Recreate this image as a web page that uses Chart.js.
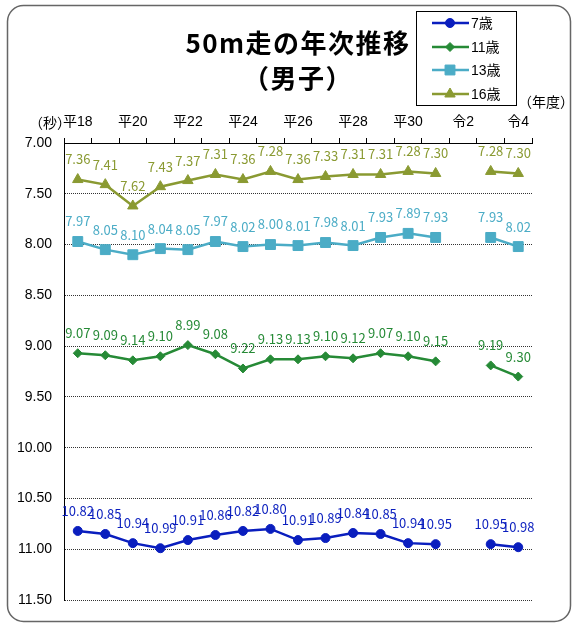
<!DOCTYPE html>
<html lang="ja">
<head>
<meta charset="utf-8">
<title>50m走の年次推移（男子）</title>
<script src="https://cdn.jsdelivr.net/npm/chart.js@4"></script>
<style>
  html, body { margin: 0; padding: 0; background: #fff; }
  #chart { display: block; }
</style>
</head>
<body>
<canvas id="chart" width="573" height="626"></canvas>
<script>
// Fiscal years (平成18 .. 令和4), 令和2 has no survey
const years = ["平18", "平19", "平20", "平21", "平22", "平23", "平24", "平25", "平26",
  "平27", "平28", "平29", "平30", "令元", "令2", "令3", "令4"];

const age7 = [10.82, 10.85, 10.94, 10.99, 10.91, 10.86, 10.82, 10.80, 10.91,
  10.89, 10.84, 10.85, 10.94, 10.95, null, 10.95, 10.98];
const age11 = [9.07, 9.09, 9.14, 9.10, 8.99, 9.08, 9.22, 9.13, 9.13,
  9.10, 9.12, 9.07, 9.10, 9.15, null, 9.19, 9.30];
const age13 = [7.97, 8.05, 8.10, 8.04, 8.05, 7.97, 8.02, 8.00, 8.01,
  7.98, 8.01, 7.93, 7.89, 7.93, null, 7.93, 8.02];
const age16 = [7.36, 7.41, 7.62, 7.43, 7.37, 7.31, 7.36, 7.28, 7.36,
  7.33, 7.31, 7.31, 7.28, 7.30, null, 7.28, 7.30];

const seriesNames = ["7歳", "11歳", "13歳", "16歳"];
const yMin = 7.0;
const yMax = 11.5;
const yStep = 0.5;

const numFont = "'Liberation Sans', 'Noto Sans CJK JP', sans-serif";
const jpFont = "'Noto Sans CJK JP', sans-serif";

function makeSeries(label, data, color, pointStyle, radius) {
  return {
    label: label,
    data: data,
    borderColor: color,
    backgroundColor: color,
    borderWidth: 2.5,
    pointStyle: pointStyle,
    pointRadius: radius,
    pointHoverRadius: radius,
    pointBorderWidth: 1,
    spanGaps: false,
    tension: 0,
  };
}

// Draws the frame, title, legend box, unit labels and value labels
const decorations = {
  id: "decorations",
  afterDatasetsDraw(chart) {
    const ctx = chart.ctx;

    // value labels above each point
    ctx.save();
    ctx.font = "13px " + jpFont;
    ctx.textAlign = "center";
    ctx.textBaseline = "middle";
    chart.data.datasets.forEach((ds, i) => {
      const meta = chart.getDatasetMeta(i);
      ctx.fillStyle = ds.borderColor;
      meta.data.forEach((pt, j) => {
        const v = ds.data[j];
        if (v === null || pt.skip) return;
        ctx.fillText(v.toFixed(2), pt.x, pt.y - 20);
      });
    });
    ctx.restore();
  },
  afterDraw(chart) {
    const ctx = chart.ctx;
    ctx.save();

    // outer rounded frame
    ctx.strokeStyle = "#666";
    ctx.lineWidth = 1.5;
    ctx.beginPath();
    ctx.roundRect(7.5, 5.5, 563, 616, 16);
    ctx.stroke();

    // title
    ctx.fillStyle = "#000";
    ctx.font = "bold 26px " + jpFont;
    ctx.textAlign = "center";
    ctx.textBaseline = "middle";
    ctx.letterSpacing = "1.5px";
    ctx.fillText("50m走の年次推移", 298, 43);
    ctx.fillText("（男子）", 298, 78);
    ctx.letterSpacing = "0px";

    // unit labels
    ctx.font = "14px " + jpFont;
    ctx.textAlign = "left";
    ctx.fillText("（秒）", 29, 123);
    ctx.fillText("（年度）", 518, 102);

    // legend box
    ctx.strokeStyle = "#000";
    ctx.lineWidth = 1;
    ctx.strokeRect(416.5, 11.5, 100, 94);
    const rowY = [23, 47, 70, 94];
    chart.data.datasets.forEach((ds, i) => {
      const y = rowY[i];
      ctx.strokeStyle = ds.borderColor;
      ctx.lineWidth = 2.5;
      ctx.beginPath();
      ctx.moveTo(432, y);
      ctx.lineTo(469, y);
      ctx.stroke();
      ctx.fillStyle = ds.borderColor;
      ctx.lineWidth = 1;
      Chart.helpers.drawPoint(ctx, {
        pointStyle: ds.pointStyle,
        radius: ds.pointRadius,
        borderWidth: 1,
        rotation: 0,
      }, 450, y);
      ctx.fillStyle = "#000";
      ctx.font = "14px " + numFont;
      ctx.textAlign = "left";
      ctx.textBaseline = "middle";
      ctx.fillText(seriesNames[i], 471, y + 1);
    });

    ctx.restore();
  },
};

new Chart(document.getElementById("chart"), {
  type: "line",
  data: {
    labels: years,
    datasets: [
      makeSeries(seriesNames[0], age7, "#0A1EBE", "circle", 4.5),
      makeSeries(seriesNames[1], age11, "#268A36", "rectRot", 4.5),
      makeSeries(seriesNames[2], age13, "#4BACC6", "rect", 7),
      makeSeries(seriesNames[3], age16, "#8A9A32", "triangle", 6),
    ],
  },
  options: {
    responsive: false,
    animation: false,
    layout: { padding: { top: 0, left: 0, right: 41, bottom: 26 } },
    plugins: {
      legend: { display: false },
      title: { display: false },
      tooltip: { enabled: false },
    },
    scales: {
      x: {
        position: "top",
        offset: true,
        afterFit: (scale) => { scale.height = 143; },
        grid: {
          offset: true,
          drawOnChartArea: false,
          drawTicks: true,
          tickLength: 5,
          color: "#000",
        },
        border: { display: true, color: "#000", width: 1 },
        ticks: {
          autoSkip: false,
          maxRotation: 0,
          padding: 7,
          color: "#000",
          font: { size: 14, family: numFont },
          callback: function (value, index) {
            return index % 2 === 0 ? this.getLabelForValue(value) : "";
          },
        },
      },
      y: {
        reverse: true,
        min: yMin,
        max: yMax,
        afterFit: (scale) => { scale.width = 64; },
        grid: {
          color: "#333",
          lineWidth: 1,
          drawTicks: false,
        },
        border: { display: true, color: "#000", width: 1, dash: [1, 1] },
        ticks: {
          stepSize: yStep,
          padding: 12,
          color: "#000",
          font: { size: 14, family: numFont },
          callback: (v) => Number(v).toFixed(2),
        },
      },
    },
  },
  plugins: [decorations],
});
</script>
</body>
</html>
